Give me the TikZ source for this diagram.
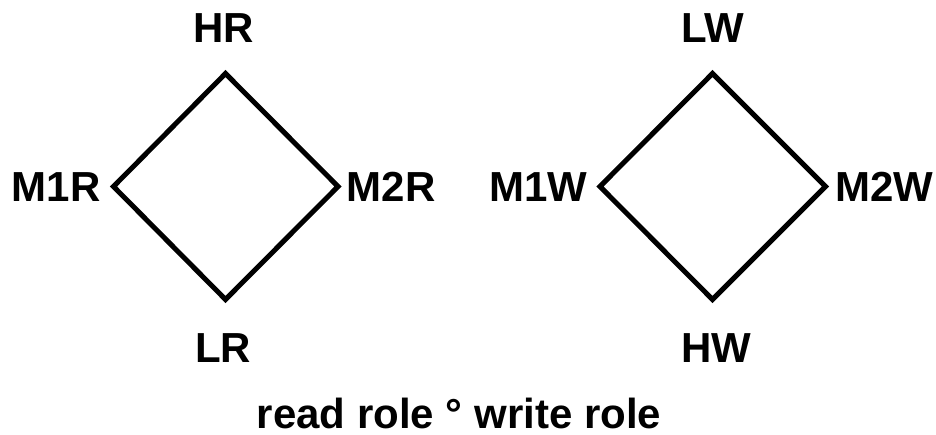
\documentclass[tikz,border=0pt]{standalone}
\usepackage{fontspec}
\setmainfont{Liberation Sans}
\begin{document}
\begin{tikzpicture}[x=1pt,y=-1pt,
  lbl/.style={anchor=base,inner sep=0pt,font=\fontsize{42}{50}\selectfont\bfseries},
  edge/.style={draw=black,line width=5pt,line join=miter}]
\useasboundingbox (0,0) rectangle (936,434);
% left diamond vertices
\coordinate (rt) at (225.5,73.5);
\coordinate (rl) at (113.5,186.5);
\coordinate (rr) at (338,186.5);
\coordinate (rb) at (225.5,299.5);
% right diamond vertices
\coordinate (wt) at (712.5,73.5);
\coordinate (wl) at (600,186.5);
\coordinate (wr) at (825.5,186.5);
\coordinate (wb) at (712.5,299.5);
\draw[edge] (rt) -- (rr) -- (rb) -- (rl) -- cycle;
\draw[edge] (wt) -- (wr) -- (wb) -- (wl) -- cycle;
% labels
\node[lbl] (HR) at (224,42.7) {HR};
\node[lbl] (M1R) at (56,201.7) {M1R};
\node[lbl] (M2R) at (391,201.7) {M2R};
\node[lbl] (LR) at (223,362) {LR};
\node[lbl] (LW) at (713,42.7) {LW};
\node[lbl] (M1W) at (538.5,201.7) {M1W};
\node[lbl] (M2W) at (884,201.7) {M2W};
\node[lbl] (HW) at (716,362) {HW};
\node[lbl] (cap) at (459,428) {read role ° write role};
\end{tikzpicture}
\end{document}
